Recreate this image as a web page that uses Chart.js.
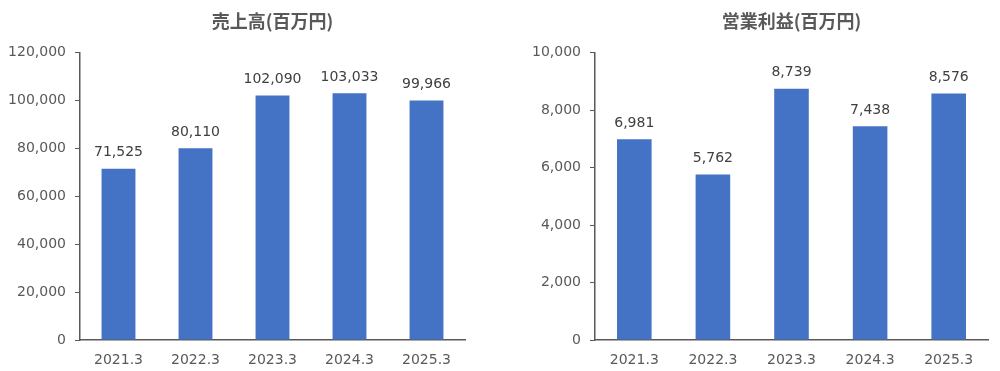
<!DOCTYPE html>
<html>
<head>
<meta charset="utf-8">
<script src="https://cdn.jsdelivr.net/npm/chart.js@4"></script>
<style>
  body { margin: 0; background: #fff; }
  .wrap { display: flex; width: 1000px; height: 371px; }
  .box { width: 500px; height: 371px; position: relative; }
</style>
</head>
<body>
<div class="wrap">
  <div class="box"><canvas id="salesChart"></canvas></div>
  <div class="box"><canvas id="profitChart"></canvas></div>
</div>
<script>
//data
const years = ['2021.3', '2022.3', '2023.3', '2024.3', '2025.3'];
const sales = [71525, 80110, 102090, 103033, 99966];
const profit = [6981, 5762, 8739, 7438, 8576];

const gray = '#595959';
const font = "'DejaVu Sans', Verdana, sans-serif";

//draw value labels above bars
const valueLabels = {
    id: 'valueLabels',
    afterDatasetsDraw(chart) {
        const ctx = chart.ctx;
        const meta = chart.getDatasetMeta(0);
        ctx.save();
        ctx.font = '14px ' + font;
        ctx.fillStyle = '#404040';
        ctx.textAlign = 'center';
        ctx.textBaseline = 'middle';
        meta.data.forEach((bar, i) => {
            const v = chart.data.datasets[0].data[i];
            ctx.fillText(v.toLocaleString('en-US'), bar.x, bar.y - 16);
        });
        ctx.restore();
    }
};

function makeChart(id, title, values, max, step, yWidth, rightPad) {
    const ctx = document.getElementById(id).getContext('2d');
    return new Chart(ctx, {
        type: 'bar',
        data: {
            labels: years,
            datasets: [{
                data: values,
                backgroundColor: '#4472C4',
                categoryPercentage: 1,
                barPercentage: 0.44
            }]
        },
        options: {
            responsive: true,
            maintainAspectRatio: false,
            animation: false,
            layout: { padding: { right: rightPad, left: 0, top: 0, bottom: 0 } },
            plugins: {
                legend: { display: false },
                tooltip: { enabled: false },
                title: {
                    display: true,
                    fullSize: false,
                    text: title,
                    color: gray,
                    font: { family: "'Noto Sans CJK JP', sans-serif", size: 18, weight: 'bold' },
                    padding: { top: 10, bottom: 21 }
                }
            },
            scales: {
                x: {
                    grid: { display: false },
                    border: { display: true, color: gray, width: 1.5 },
                    ticks: { color: gray, font: { family: font, size: 14 }, padding: 4 },
                    afterFit: s => { s.height = 31; }
                },
                y: {
                    min: 0,
                    max: max,
                    grid: { display: true, drawOnChartArea: false, drawTicks: true, tickLength: 5, color: gray },
                    border: { display: true, color: gray, width: 1.5 },
                    ticks: {
                        stepSize: step,
                        color: gray,
                        padding: 9,
                        font: { family: font, size: 14 },
                        callback: v => v.toLocaleString('en-US')
                    },
                    afterFit: s => { s.width = yWidth; }
                }
            }
        },
        plugins: [valueLabels]
    });
}

//sales chart
const salesChart = makeChart('salesChart', '売上高(百万円)', sales, 120000, 20000, 80, 35);

//profit chart
const profitChart = makeChart('profitChart', '営業利益(百万円)', profit, 10000, 2000, 95, 12);
</script>
</body>
</html>
